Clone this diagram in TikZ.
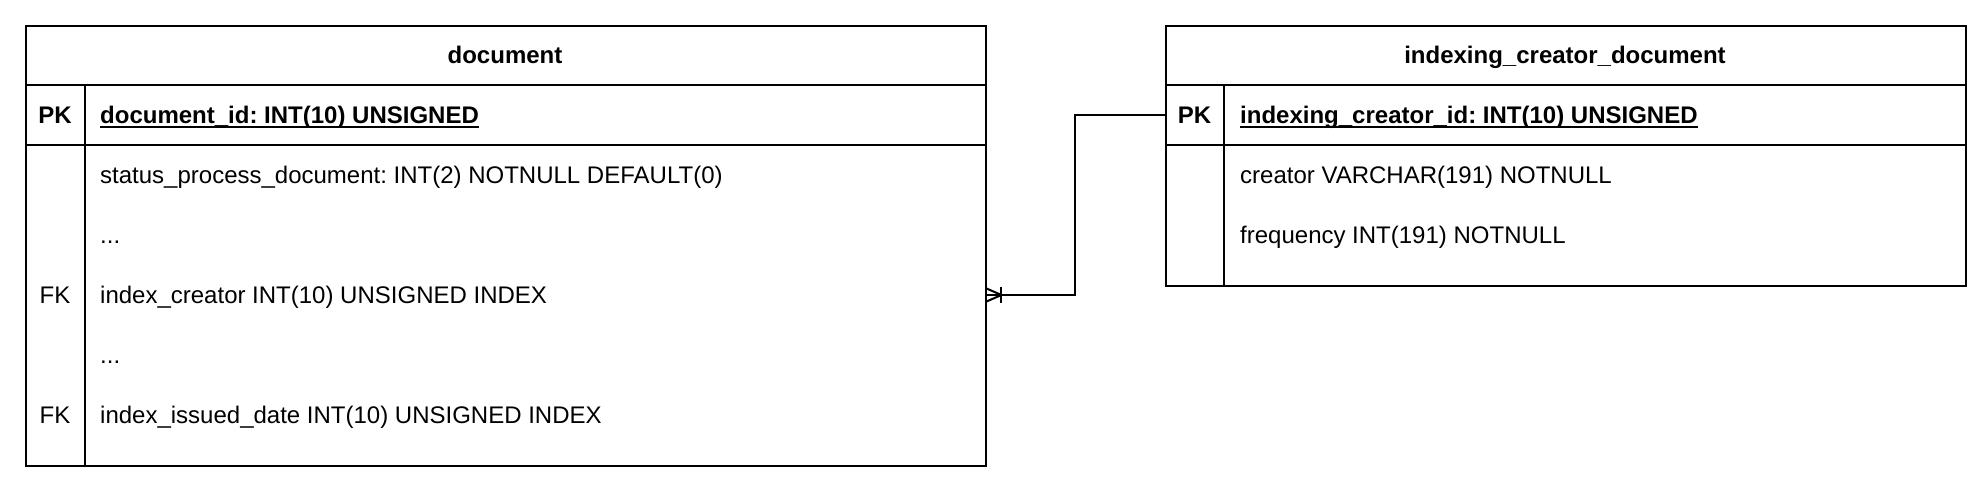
\documentclass[tikz,border=0pt]{standalone}
\usepackage{fontspec}
\setmainfont{Liberation Sans}
\newcommand\myul[1]{\setbox0\hbox{#1}\rlap{\rule[-5pt]{\wd0}{2pt}}\box0}
\frenchspacing
\begin{document}
\begin{tikzpicture}[x=1pt,y=-1pt,
  tbl/.style={draw=black,line width=2pt,anchor=north west,inner sep=0pt},
  rowline/.style={draw=black,line width=2pt},
  row/.style={inner sep=0pt,minimum height=60pt,anchor=west},
  txt/.style={inner sep=0pt,anchor=base west,font=\fontsize{24}{28}\selectfont},
  ctxt/.style={inner sep=0pt,anchor=base,font=\fontsize{24}{28}\selectfont},
  hdr/.style={inner sep=0pt,anchor=base,font=\fontsize{24}{28}\selectfont\bfseries},
  conn/.style={draw=black,line width=2pt}]
\useasboundingbox (0,0) rectangle (1982,484);
\fill[white] (0,0) rectangle (1982,484);

% ---- document table ----
\node[tbl,minimum width=960pt,minimum height=440pt] (doc) at (25,25) {};
\draw[rowline] (25,85) -- (985,85);
\draw[rowline] (25,145) -- (985,145);
\draw[rowline] (85,85) -- (85,465);
\node[hdr] (docH) at (505,63.3) {document};
\node[hdr] (docPK) at (55,123.3) {PK};
\node[hdr,anchor=base west] (docId) at (100,123.3) {\myul{document\_id: INT(10) UNSIGNED}};
\node[txt] (docR1) at (100,183.3) {status\_process\_document: INT(2) NOTNULL DEFAULT(0)};
\node[txt] (docR2) at (100,243.3) {...};
\node[ctxt] (docFK1) at (55,303.3) {FK};
\node[txt] (docR3) at (100,303.3) {index\_creator INT(10) UNSIGNED INDEX};
\node[txt] (docR4) at (100,363.3) {...};
\node[ctxt] (docFK2) at (55,423.3) {FK};
\node[txt] (docR5) at (100,423.3) {index\_issued\_date INT(10) UNSIGNED INDEX};
\node[row,minimum width=960pt] (fkrow) at (25,295) {};

% ---- indexing_creator_document table ----
\node[tbl,minimum width=800pt,minimum height=260pt] (icd) at (1165,25) {};
\draw[rowline] (1165,85) -- (1965,85);
\draw[rowline] (1165,145) -- (1965,145);
\draw[rowline] (1224,85) -- (1224,285);
\node[hdr] (icdH) at (1565,63.3) {indexing\_creator\_document};
\node[hdr] (icdPK) at (1194.5,123.3) {PK};
\node[hdr,anchor=base west] (icdId) at (1240,123.3) {\myul{indexing\_creator\_id: INT(10) UNSIGNED}};
\node[txt] (icdR1) at (1240,183.3) {creator VARCHAR(191) NOTNULL};
\node[txt] (icdR2) at (1240,243.3) {frequency INT(191) NOTNULL};
\node[row,minimum width=800pt] (pkrow) at (1165,115) {};

% ---- connector ----
\draw[conn] (pkrow.west) -- ++(-90,0) |- (fkrow.east);
% crow's foot (one or many)
\draw[conn] ([yshift=7pt]fkrow.east) -- ([xshift=16pt]fkrow.east) -- ([yshift=-7pt]fkrow.east);
\draw[conn] ([xshift=16pt,yshift=8pt]fkrow.east) -- ([xshift=16pt,yshift=-8pt]fkrow.east);
\end{tikzpicture}
\end{document}
